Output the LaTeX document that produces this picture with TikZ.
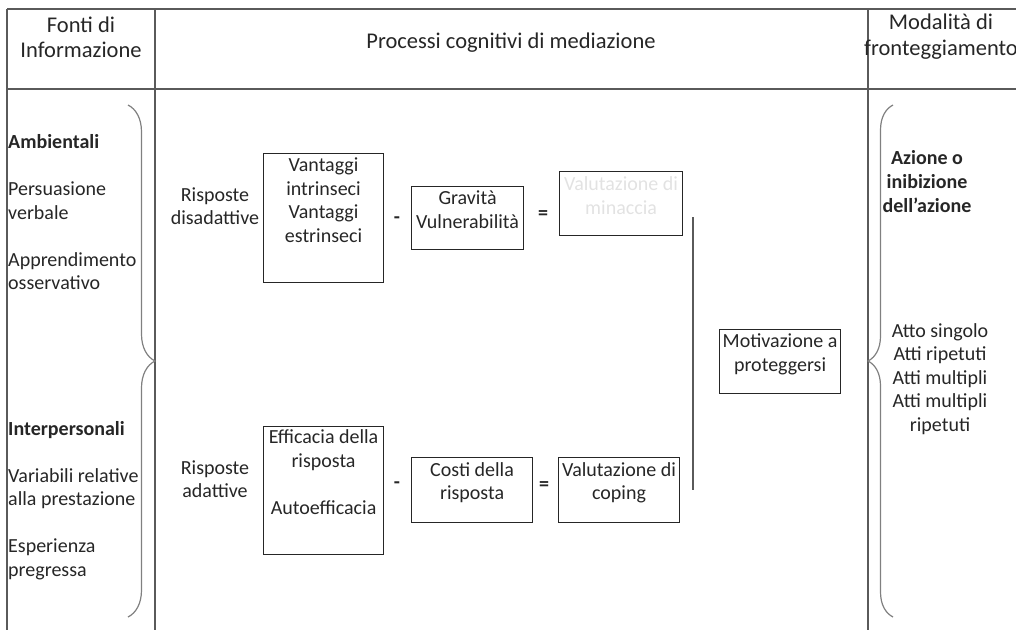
\documentclass[tikz,border=0pt]{standalone}
\usepackage{fontspec}
\setmainfont{Carlito}
\usetikzlibrary{decorations.pathreplacing}
\definecolor{rulegray}{HTML}{5A5A5A}
\definecolor{bracegray}{HTML}{808080}
\definecolor{inktext}{HTML}{262626}
\definecolor{fainttext}{HTML}{E2E2E2}

\begin{document}
\begin{tikzpicture}[x=1pt, y=-1pt,
    every node/.style={font=\fontsize{20}{23.5}\selectfont, text=inktext, inner sep=0pt},
    head/.style={font=\fontsize{22.5}{25.5}\selectfont, align=center, anchor=base},
    lbl/.style={align=center, anchor=base},
    side/.style={align=left, anchor=base west},
    box/.style={draw=black!85, line width=1.1pt, anchor=north west},
    sign/.style={font=\fontsize{20}{23.5}\selectfont\bfseries},
    rule/.style={draw=rulegray, line width=1.3pt},
    curly/.style={draw=bracegray, line width=1.2pt, decorate, decoration={brace, amplitude=#1}}]
    \useasboundingbox (0,0) rectangle (1016,630);
    % table (base anchors sit on the last line of each text)
    \draw[rule] (7,9) -- (1016,9);
    \draw[rule] (7,89) -- (1016,89);
    \foreach \x in {7,155,868}
      \draw[rule] (\x,9) -- (\x,630);
    \node[head] (fonti) at (81,57.5) {Fonti di\\Informazione};
    \node[head] (proc) at (511,48) {Processi cognitivi di mediazione};
    \node[head] (modal) at (941,55) {Modalità di\\fronteggiamento};
    % sources
    \node[side] (ambient) at (8,289.5)
      {\textbf{Ambientali}\\[23.5pt]Persuasione\\verbale\\[23.5pt]Apprendimento\\osservativo};
    \node[side] (interp) at (8,576)
      {\textbf{Interpersonali}\\[23.5pt]Variabili relative\\alla prestazione\\[23.5pt]Esperienza\\pregressa};
    \draw[curly=27] (128,105) -- (128,617);
    % threat
    \node[lbl] (disad) at (215,224.5) {Risposte\\disadattive};
    \node[box, minimum width=120, minimum height=129] (vant) at (263,153) {};
    \node[lbl] (vanttxt) at ([shift={(0,89)}]vant.north)
      {Vantaggi\\intrinseci\\Vantaggi\\estrinseci};
    \node[sign] (minus1) at (397,220) {-};
    \node[box, minimum width=112, minimum height=63] (grav) at (411,186) {};
    \node[lbl] (gravtxt) at ([shift={(0,42)}]grav.north) {Gravità\\Vulnerabilità};
    \node[sign] (equal1) at (543,215) {=};
    \node[box, minimum width=123, minimum height=64] (minac) at (559,171) {};
    \node[lbl, text=fainttext] (minactxt) at ([shift={(0,43)}]minac.north)
      {Valutazione di\\minaccia};
    % coping
    \node[lbl] (adatt) at (215,497.5) {Risposte\\adattive};
    \node[box, minimum width=120, minimum height=128] (effic) at (263,426) {};
    \node[lbl] (effictxt) at ([shift={(0,88)}]effic.north)
      {Efficacia della\\risposta\\[23.5pt]Autoefficacia};
    \node[sign] (minus2) at (397,485) {-};
    \node[box, minimum width=121, minimum height=65] (costi) at (411,457) {};
    \node[lbl] (costitxt) at ([shift={(0,42.5)}]costi.north) {Costi della\\risposta};
    \node[sign] (equal2) at (544,486) {=};
    \node[box, minimum width=121, minimum height=65] (coping) at (558,457) {};
    \node[lbl] (copingtxt) at ([shift={(0,42.5)}]coping.north) {Valutazione di\\coping};
    \coordinate (jtop) at (693,217);
    \coordinate (jbot) at (693,490);
    \draw[rule] (jtop) -- (jbot);
    \node[box, minimum width=121, minimum height=64] (motiv) at (719,329) {};
    \node[lbl] (motivtxt) at ([shift={(0,42)}]motiv.north) {Motivazione a\\proteggersi};
    % coping modes
    \draw[curly=25] (893,617) -- (893,105);
    \node[lbl, font=\fontsize{20}{24}\selectfont\bfseries] (azione) at (927,212)
      {Azione o\\inibizione\\dell’azione};
    \node[lbl] (atti) at (940,431)
      {Atto singolo\\Atti ripetuti\\Atti multipli\\Atti multipli\\ripetuti};
  \end{tikzpicture}
\end{document}
